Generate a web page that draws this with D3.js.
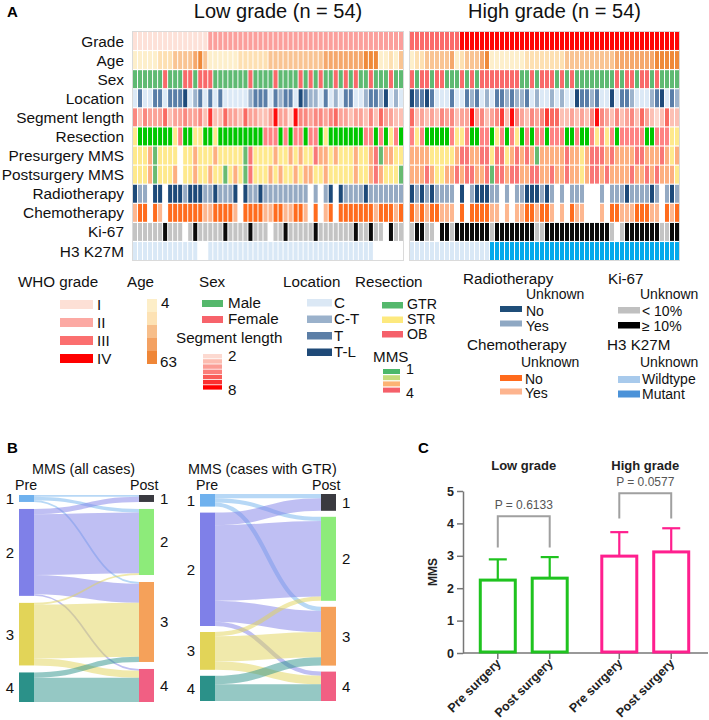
<!DOCTYPE html>
<html><head><meta charset="utf-8">
<script src="https://cdn.jsdelivr.net/npm/d3@7/dist/d3.min.js"></script>
<style>body{margin:0;background:#fff}svg{display:block;font-family:Arial,"Liberation Sans",sans-serif}</style>
</head><body><svg id="c" width="709" height="720"></svg>
<script>
// ---------------- DATA ----------------
const groupTitles = ["Low grade (n = 54)", "High grade (n = 54)"];
const rowLabels = ["Grade","Age","Sex","Location","Segment length","Resection","Presurgery MMS","Postsurgery MMS","Radiotherapy","Chemotherapy","Ki-67","H3 K27M"];

// Heatmap codes, one character per patient (low grade | high grade)
const gradeLow  = "111111111111111222222222222222222222222222222222222222".split("");
const gradeHigh = "333333333344444444444444444444444444444444444444444444".split("");
const ageLow    = "111112223333453111111222222333333333334444444455511213".split("");
const ageHigh   = "122333334123334511111112222222233333333334444444455555".split("");
const sexLow    = "GGGGGGRGGGRRGRRRGGGGGGGRGGGGRGGGGRGRGRGGRGRGRGGRGGGRGG".split("");
const sexHigh   = "RGRRGRRGGGRGRGRRRRRRRRGGRGRRRGRGRGGGGGGGGRGRRGRRGRGGGG".split("");
const locLow    = "131133133341231313111112333132331432213121331123324121".split("");
const locHigh   = "433431113113231213323223121121211433231141332111234132".split("");
const segLow    = "535444634454453733644364433484428554554564434435364433".split("");
const segHigh   = "634343545344845345738543545766334343585435345364323633".split("");
const resLow    = "YGGGGGGGYRGGYYGGYGGGGGGGGGRRRGRGRRGRRGYGGGGGGGRRGRGYRG".split("");
const resHigh   = "RYRGGGGGRYYRGGRRGYRGRYGRGRRGRRRGGRGGRYRYRGRRRRRGGRRRYY".split("");
const preLow    = "222312222022322232222214222232232322433232223223413322".split("");
const preHigh   = "333322222344334424423434313333343323444343333443334323".split("");
const postLow   = "222312223022322322123214222323223233223222223223432221".split("");
const postHigh  = "333432233434433414434433443343343323443433334334343332".split("");
const radioLow  = "NYYWNNWNNNYNNNYYNYYYNWNYYNYYYYYYYYYWYWYNWNYYYYNYYYYYYY".split("");
const radioHigh = "NYNYNYYYYWNWYNNNYYWYWYYNNNYNYWYWYYYWWWYWYYYNYYYYNYWYNY".split("");
const chemoLow  = "YNNWNYWNNNNNNNYYNNNNYWNNNNYYNNYYNNYWNWYNWNNNNNNNYNNNYN".split("");
const chemoHigh = "NYNYNNYYYWNWNNNNYYWYWYYNNYNNYWYWNYYWWWYWNNYYYNNNYYWNYN".split("");
const kiLow     = "GGGGGGBGGGWGBGGGGGBGGGGBGGGWGGBGGGGGBGGGGGGGBGGBGGWBGG".split("");
const kiHigh    = "GBBGGWBBGBBBBBBBGBBBBBBBBGGBBBBBBBBBBBBBGWGBBBBBBBGGBB".split("");
const h3Low     = "WWWWWWWWWWWWWUUWWWWWWWWWWWWWWWWWWWWWWWWWWWWWWWWWUUUUU".split("");
const h3High    = "WWWWWWWWWWWWWWWWMMMMMMMMMMMMMMMMMMMMMMMMMMMMMMMMMMMMMM".split("");

// Sankey links [pre MMS, post MMS, cases]
const preLabels = ["1","2","3","4"];
const postLabels = ["1","2","3","4"];
const sankeyAll = [[1,1,1],[1,2,2],[1,3,1],[2,1,3],[2,2,35],[2,3,11],[2,4,1],[3,2,1],[3,3,31],[3,4,4],[4,3,3],[4,4,14]];
const sankeyGTR = [[1,1,1],[1,2,1],[1,3,1],[2,1,3],[2,2,18],[2,3,5],[2,4,1],[3,2,1],[3,3,6],[3,4,2],[4,3,2],[4,4,4]];

// Panel C
const barGroups = ["Low grade","High grade"];
const barPhases = ["Pre surgery","Post surgery"];
const barMeans = [[2.25, 2.31],[2.99, 3.12]];
const barSD    = [[0.64, 0.65],[0.74, 0.73]];
const pValues  = ["P = 0.6133","P = 0.0577"];
const yTicks   = [0,1,2,3,4,5];

// ---------------- COLOURS ----------------
const cGrade = {1:"#fde1d8",2:"#fb9f9c",3:"#fb6b6b",4:"#ff0606"};
const cAge   = {1:"#fdefcb",2:"#fde0b2",3:"#f9c493",4:"#f5a86c",5:"#ef8939"};
const cSex   = {G:"#5fba72",R:"#f96a6a"};
const cLoc   = {1:"#dce9f6",2:"#9db3cc",3:"#5a7ea8",4:"#1e4a7a"};
const cSeg   = {2:"#fdd8ce",3:"#fcc0b4",4:"#fba398",5:"#fa8880",6:"#fa6a62",7:"#fc3b36",8:"#ff0c0c"};
const cRes   = {G:"#00c700",Y:"#fee98c",R:"#ff8383"};
const cMMS   = {0:null,1:"#68bb71",2:"#fee98c",3:"#fdaf80",4:"#f97777"};
const cRadio = {W:null,N:"#1d4a79",Y:"#95aac3"};
const cChemo = {W:null,N:"#ff6c1e",Y:"#fdb790"};
const cKi    = {W:null,G:"#c4c4c4",B:"#0a0a0a"};
const cH3    = {U:null,W:"#d9e8f6",M:"#04aaec"};

const rows = [
  [gradeLow, gradeHigh, cGrade],[ageLow, ageHigh, cAge],[sexLow, sexHigh, cSex],[locLow, locHigh, cLoc],
  [segLow, segHigh, cSeg],[resLow, resHigh, cRes],[preLow, preHigh, cMMS],[postLow, postHigh, cMMS],
  [radioLow, radioHigh, cRadio],[chemoLow, chemoHigh, cChemo],[kiLow, kiHigh, cKi],[h3Low, h3High, cH3]
].map((r,i)=>({label:rowLabels[i], low:r[0], high:r[1], colors:r[2]}));

const svg = d3.select("#c");
const FS = 15.2, FI = 14.2, FU = 14;

// ---------------- PANEL A ----------------
svg.append("text").attr("x",7).attr("y",17).attr("font-weight","bold").attr("font-size",15).text("A");
const yRow = d3.scaleBand().domain(rowLabels).range([32,260]).paddingInner(0.06);
svg.append("g").selectAll("text").data(rowLabels).join("text")
  .attr("x",124).attr("y",d=>yRow(d)+yRow.bandwidth()/2).attr("dy","0.36em")
  .attr("text-anchor","end").attr("font-size",15.4).attr("fill","#111").text(d=>d);

const blocks = [{key:"low", title:groupTitles[0], range:[133,403]},{key:"high", title:groupTitles[1], range:[410,679]}];
blocks.forEach(b=>{
  const xs = d3.scaleBand().domain(d3.range(54)).range(b.range).paddingInner(0.2);
  const g = svg.append("g");
  g.append("rect").attr("x",b.range[0]-0.5).attr("y",31.5).attr("width",b.range[1]-b.range[0]+1).attr("height",229)
    .attr("fill","none").attr("stroke","#dadada");
  rows.forEach(r=>{
    g.selectAll(null).data(r[b.key].map((v,i)=>({v,i}))).join("rect")
      .attr("x",d=>xs(d.i)).attr("y",yRow(r.label)).attr("width",xs.bandwidth()).attr("height",yRow.bandwidth())
      .attr("fill",d=>r.colors[d.v]||"#ffffff");
  });
  svg.append("text").attr("x",(b.range[0]+b.range[1])/2+10).attr("y",18).attr("text-anchor","middle")
    .attr("font-size",20).attr("fill","#111").text(b.title);
});

// ---------------- LEGEND ----------------
const L = svg.append("g").attr("fill","#111");
function txt(x,y,s,fs){ L.append("text").attr("x",x).attr("y",y).attr("font-size",fs||FI).text(s); }
function ttl(x,y,s){ txt(x,y,s,FS); }
function sw(x,y,w,h,c){ L.append("rect").attr("x",x).attr("y",y).attr("width",w).attr("height",h).attr("fill",c); }

const legGrade = [["I","#fde0d6"],["II","#fca9a3"],["III","#fb6f6f"],["IV","#ff0000"]];
ttl(18,287,"WHO grade");
legGrade.forEach((d,i)=>{ sw(60,300+i*18,33,9,d[1]); txt(97,309.5+i*18,d[0],FS); });

const legAge = ["#fdeec8","#fde2b4","#f7be8a","#f3a162","#ef8637"];
ttl(127,287,"Age");
legAge.forEach((c,i)=>sw(147,299+i*13,10,13,c));
txt(161,308,"4",FS); txt(160,367,"63",FS);

const legSex = [["Male","#55b86c"],["Female","#f7636b"]];
ttl(199,287,"Sex");
legSex.forEach((d,i)=>{ sw(202,300+i*16,21,7,d[1]); txt(228,308+i*16,d[0],FS); });

const legSeg = ["#fcd9d0","#fcbcb0","#fb9c94","#fb7e7a","#fa5c58","#fb3030","#ff0000"];
ttl(176,343,"Segment length");
legSeg.forEach((c,i)=>sw(203,354+i*5.2,19,4.4,c));
txt(228,361,"2",FS); txt(228,395,"8",FS);

const legLoc = [["C","#dbe8f5"],["C-T","#9ab1cb"],["T","#5b7ea6"],["T-L","#1f4a78"]];
ttl(283,287,"Location");
legLoc.forEach((d,i)=>{ sw(307,299+i*16.5,25,7.5,d[1]); txt(334,307.5+i*16.5,d[0],FS); });

const legRes = [["GTR","#54b86c"],["STR","#fde97e"],["OB","#f5606a"]];
ttl(355,287,"Resection");
legRes.forEach((d,i)=>{ sw(382,302+i*14.5,21,6.5,d[1]); txt(407,309+i*14.8,d[0]); });

const legMMS = ["#4cb86a","#c6dc7c","#fcb374","#f5606a"];
ttl(373,362,"MMS");
legMMS.forEach((c,i)=>sw(383,369+i*6.2,17,5,c));
txt(406,374,"1"); txt(406,398,"4");

const legRadio = [["No","#1f4e79"],["Yes","#8fa8c3"]];
ttl(463,284,"Radiotherapy"); txt(526,298.5,"Unknown",FU);
legRadio.forEach((d,i)=>{ sw(500,306+i*14.5,22,6,d[1]); txt(526,315.5+i*15,d[0],FU); });

const legChemo = [["No","#ff6a1c"],["Yes","#fdb48e"]];
ttl(467,350,"Chemotherapy"); txt(521,366.5,"Unknown",FU);
legChemo.forEach((d,i)=>{ sw(500,375+i*13.5,22,6,d[1]); txt(525,383.5+i*14.5,d[0],FU); });

const legKi = [["< 10%","#c0c0c0"],["\u2265 10%","#000000"]];
ttl(608,284,"Ki-67"); txt(640,298.5,"Unknown",FU);
legKi.forEach((d,i)=>{ sw(618,307+i*15,22,6.5,d[1]); txt(642,315.5+i*15,d[0],FU); });

const legH3 = [["Wildtype","#a8caec"],["Mutant","#4b92d8"]];
ttl(607,350,"H3 K27M"); txt(640,366.5,"Unknown",FU);
legH3.forEach((d,i)=>{ sw(618,376+i*14.5,22,7,d[1]); txt(642,384+i*15,d[0],FU); });

// ---------------- PANEL B ----------------
svg.append("text").attr("x",7).attr("y",453).attr("font-weight","bold").attr("font-size",15).text("B");
const preColors = ["#6fb1ee","#7f80e8","#e2d458","#2b9189"];
const postColors = ["#3a3a40","#8deb7a","#f5a15a","#f15f83"];

function sankey(links, cfg){
  const g = svg.append("g");
  const total = d3.sum(links, d=>d[2]);
  const preVal = preLabels.map((_,i)=>d3.sum(links.filter(l=>l[0]===i+1), l=>l[2]));
  const postVal = postLabels.map((_,i)=>d3.sum(links.filter(l=>l[1]===i+1), l=>l[2]));
  const k = (cfg.y1 - cfg.y0 - 3*cfg.pad)/total;
  const h = d3.scaleLinear().domain([0,total]).range([0,k*total]);
  function layout(vals){ let y=cfg.y0; return vals.map(v=>{ const n={y0:y,y1:y+h(v)}; y=n.y1+cfg.pad; return n; }); }
  const preN = layout(preVal), postN = layout(postVal);
  const srcOff = preN.map(n=>n.y0), tgtOff = postN.map(n=>n.y0);
  const L2 = links.map(l=>{ const w=h(l[2]); const s=srcOff[l[0]-1]+w/2; srcOff[l[0]-1]+=w; return {l,w,s}; });
  [...L2].sort((a,b)=>a.l[0]-b.l[0]).forEach(d=>{ d.t=tgtOff[d.l[1]-1]+d.w/2; tgtOff[d.l[1]-1]+=d.w; });
  const lk = d3.linkHorizontal().source(d=>[cfg.xPre+cfg.nw, d.s]).target(d=>[cfg.xPost, d.t]);
  g.selectAll("path").data(L2).join("path").attr("d",lk).attr("fill","none")
    .attr("stroke",d=>preColors[d.l[0]-1]).attr("stroke-opacity",0.5).attr("stroke-width",d=>Math.max(1,d.w));
  g.selectAll(".pre").data(preN).join("rect").attr("x",cfg.xPre).attr("y",d=>d.y0).attr("width",cfg.nw)
    .attr("height",d=>d.y1-d.y0).attr("fill",(d,i)=>preColors[i]);
  g.selectAll(".post").data(postN).join("rect").attr("x",cfg.xPost).attr("y",d=>d.y0).attr("width",cfg.nw)
    .attr("height",d=>d.y1-d.y0).attr("fill",(d,i)=>postColors[i]);
  const t = g.append("g").attr("font-size",15).attr("fill","#111");
  preN.forEach((n,i)=>t.append("text").attr("x",cfg.xPre-5).attr("y",(n.y0+n.y1)/2).attr("dy","0.36em").attr("text-anchor","end").text(preLabels[i]));
  postN.forEach((n,i)=>t.append("text").attr("x",cfg.xPost+cfg.nw+6).attr("y",(n.y0+n.y1)/2).attr("dy","0.36em").text(postLabels[i]));
  t.append("text").attr("x",cfg.titleX).attr("y",474).attr("font-size",14.4).text(cfg.title);
  t.append("text").attr("x",cfg.xPre-4).attr("y",489.5).attr("font-size",14.2).text("Pre");
  t.append("text").attr("x",cfg.xPost-9).attr("y",489.5).attr("font-size",14.2).text("Post");
}
sankey(sankeyAll, {title:"MMS (all cases)", titleX:32, xPre:19, xPost:139, nw:15, y0:495, y1:702, pad:7});
sankey(sankeyGTR, {title:"MMS (cases with GTR)", titleX:188, xPre:200, xPost:321, nw:15, y0:494, y1:701, pad:6});

// ---------------- PANEL C ----------------
svg.append("text").attr("x",418).attr("y",453).attr("font-weight","bold").attr("font-size",15).text("C");
const yC = d3.scaleLinear().domain([0,5]).range([653,491]);
const xG = d3.scaleBand().domain(barGroups).range([463,706]).padding(0);
const xP = d3.scalePoint().domain(barPhases).range([0,xG.bandwidth()]).padding(0.67);
const barColors = ["#1fc31f","#ff1f8e"];
const gc = svg.append("g");
const ay = gc.append("g").attr("transform","translate(463,0)")
  .call(d3.axisLeft(yC).tickValues(yTicks).tickFormat(d3.format("d")).tickSize(6).tickSizeOuter(0));
ay.select(".domain").attr("stroke","#777").attr("stroke-width",1.5);
ay.selectAll(".tick line").attr("stroke","#777").attr("stroke-width",1.5);
ay.selectAll(".tick text").attr("font-size",12.5).attr("font-weight","bold").attr("fill","#222").attr("font-family",'Arial,"Liberation Sans",sans-serif').attr("x",-9);
gc.append("line").attr("x1",463).attr("x2",708).attr("y1",653).attr("y2",653).attr("stroke","#777").attr("stroke-width",1.5);
barGroups.forEach((gname,gi)=>{
  const col = barColors[gi];
  barPhases.forEach((p,pi)=>{
    const cx = xG(gname)+xP(p);
    const m = barMeans[gi][pi], sd = barSD[gi][pi];
    gc.append("line").attr("x1",cx).attr("x2",cx).attr("y1",653).attr("y2",659).attr("stroke","#777").attr("stroke-width",1.5);
    gc.append("line").attr("x1",cx).attr("x2",cx).attr("y1",yC(m)).attr("y2",yC(m+sd)).attr("stroke",col).attr("stroke-width",2.2);
    gc.append("line").attr("x1",cx-9).attr("x2",cx+9).attr("y1",yC(m+sd)).attr("y2",yC(m+sd)).attr("stroke",col).attr("stroke-width",2.2);
    gc.append("rect").attr("x",cx-17.5).attr("y",yC(m)).attr("width",35).attr("height",yC(0)-yC(m)-1)
      .attr("fill","none").attr("stroke",col).attr("stroke-width",3);
    gc.append("text").attr("transform",`translate(${cx+4},${664}) rotate(-45)`).attr("text-anchor","end")
      .attr("font-size",12.5).attr("font-weight","bold").attr("fill","#222").text(p);
  });
  const x1 = xG(gname)+xP(barPhases[0]), x2 = xG(gname)+xP(barPhases[1]);
  const top = d3.max(barMeans[gi].map((m,i)=>m+barSD[gi][i]));
  const yb = yC(top+0.3), yt = yC(top+(gi===0?1.26:1.08));
  gc.append("path").attr("d",`M${x1},${yb}V${yt}H${x2}V${yb}`).attr("fill","none").attr("stroke","#a0a0a0").attr("stroke-width",2);
  gc.append("text").attr("x",(x1+x2)/2).attr("y",yt-7).attr("text-anchor","middle").attr("font-size",12).attr("fill","#555").text(pValues[gi]);
  gc.append("text").attr("x",(x1+x2)/2).attr("y",470).attr("text-anchor","middle").attr("font-size",13).attr("font-weight","bold").attr("fill","#222").text(gname);
});
gc.append("text").attr("transform","translate(437,572) rotate(-90)").attr("text-anchor","middle")
  .attr("font-size",12).attr("font-weight","bold").attr("fill","#222").text("MMS");
</script></body></html>
